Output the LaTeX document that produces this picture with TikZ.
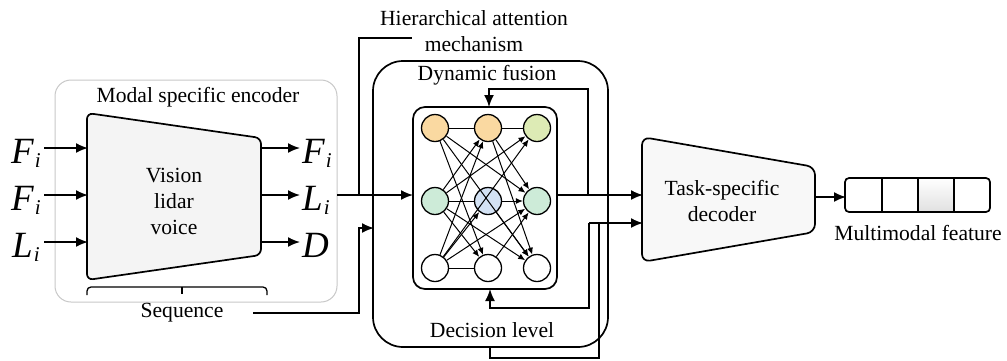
\documentclass[tikz,border=0pt]{standalone}
\usepackage{fontspec}
\setmainfont{Liberation Serif}
\usetikzlibrary{arrows.meta,calc}

% subscript index for the symbol labels
\newcommand\symidx[1]{\kern1pt\raisebox{-4pt}{\fontsize{21}{21}\selectfont #1}}

\definecolor{nodeorange}{HTML}{FAD9A1}
\definecolor{nodelime}{HTML}{DDEBB5}
\definecolor{nodemint}{HTML}{CDEBD8}
\definecolor{nodeblue}{HTML}{D3E2F4}
\definecolor{boxgray}{HTML}{C8C8C8}
\definecolor{trapfill}{HTML}{F4F4F4}

\begin{document}
\begin{tikzpicture}[x=1pt,y=-1pt,
  txt/.style={font=\rmfamily\fontsize{21.6}{26}\selectfont, align=center, inner sep=0pt},
  sym/.style={font=\rmfamily\fontsize{37}{37}\selectfont\itshape, inner sep=0pt, anchor=base west},
  conn/.style={line width=1.7pt},
  arr/.style={conn, -{Latex[length=12pt,width=10pt]}},
  neuron/.style={circle, draw, line width=1.3pt, minimum size=27pt, inner sep=0pt},
  link/.style={line width=1.0pt},
  linkarr/.style={link, -{Latex[length=7pt,width=6pt]}},
]
\useasboundingbox (0,0) rectangle (1007,360);
\fill[white] (0,0) rectangle (1007,360);

% ---------- modal specific encoder ----------
\draw[boxgray, line width=1pt, rounded corners=16pt] (55,80) rectangle (337,302);
\node[txt] (enctitle) at (198,97) {Modal specific encoder};
\draw[conn, fill=trapfill, rounded corners=6pt] (87,113) -- (261,138) -- (261,255) -- (87,280) -- cycle;
\node[txt] (enctext) at (174,201) {Vision\\lidar\\voice};

% inputs
\node[sym] (inF1) at (11,163) {F\symidx{i}};
\node[sym] (inF2) at (11,210) {F\symidx{i}};
\node[sym] (inL)  at (12,257) {L\symidx{i}};
\coordinate (inA1) at (44,148);  \coordinate (encA1) at (88,148);
\coordinate (inA2) at (44,195);  \coordinate (encA2) at (88,195);
\coordinate (inA3) at (44,242);  \coordinate (encA3) at (88,242);
\draw[arr] (inA1) -- (encA1);
\draw[arr] (inA2) -- (encA2);
\draw[arr] (inA3) -- (encA3);

% outputs
\coordinate (encB1) at (261,148); \coordinate (outA1) at (300,148);
\coordinate (encB2) at (261,195); \coordinate (outA2) at (300,195);
\coordinate (encB3) at (261,242); \coordinate (outA3) at (300,242);
\draw[arr] (encB1) -- (outA1);
\draw[arr] (encB2) -- (outA2);
\draw[arr] (encB3) -- (outA3);
\node[sym] (outF) at (302,163) {F\symidx{i}};
\node[sym] (outL) at (302,210) {L\symidx{i}};
\node[sym] (outD) at (302,257) {D};

% sequence brace
\draw[line width=1.3pt, rounded corners=4pt] (87,295) -- (87,287) -- (267,287) -- (267,295);
\draw[line width=1.3pt] (182,287) -- (182,294);
\node[txt] (seq) at (182,313) {Sequence};

% ---------- fusion block ----------
\draw[conn, rounded corners=30pt] (373,61) rectangle (608,347);
\node[txt] (dyn) at (487,75) {Dynamic fusion};
\node[txt] (dec) at (492,330) {Decision level};
\draw[conn, rounded corners=12pt] (413,107) rectangle (557,289);

\node[txt] (hier) at (474,31) {Hierarchical attention\\mechanism};

% neurons
\node[neuron, fill=nodeorange] (n11) at (435,128) {};
\node[neuron, fill=nodeorange] (n12) at (488,128) {};
\node[neuron, fill=nodelime]   (n13) at (537,128) {};
\node[neuron, fill=nodemint]   (n21) at (435,201) {};
\node[neuron, fill=nodeblue]   (n22) at (488,201) {};
\node[neuron, fill=nodemint]   (n23) at (537,201) {};
\node[neuron, fill=white]      (n31) at (435,268) {};
\node[neuron, fill=white]      (n32) at (488,268) {};
\node[neuron, fill=white]      (n33) at (537,268) {};

% neuron links
\draw[link] (n11) -- (n12);
\draw[link] (n12) -- (n13);
\draw[link] (n21) -- (n22);
\draw[linkarr] (n22) -- (n23);
\draw[link] (n31) -- (n32);
\draw[linkarr] (n11) -- (n23);
\draw[linkarr] (n11) -- (n32);
\draw[linkarr] (n11) -- (n33);
\draw[linkarr] (n12) -- (n23);
\draw[linkarr] (n12) -- (n33);
\draw[linkarr] (n21) -- (n12);
\draw[linkarr] (n21) -- (n13);
\draw[linkarr] (n21) -- (n32);
\draw[linkarr] (n21) -- (n33);
\draw[linkarr] (n31) -- (n22);
\draw[linkarr] (n31) -- (n23);
\draw[linkarr] (n31) -- (n12);
\draw[linkarr] (n31) -- (n13);
\draw[linkarr] (n22) -- (n33);
\draw[linkarr] (n32) -- (n23);

% ---------- connections into the fusion block ----------
\coordinate (liOut) at (337,195);
\coordinate (netIn) at (413,195);
\draw[arr] (liOut) -- (netIn);
\coordinate (hierTap) at (359,195);
\coordinate (hierEnd) at (412,38);
\draw[conn] (hierTap) |- (hierEnd);
\coordinate (seqStart) at (253,313);
\coordinate (seqIn) at (374,228);
\draw[arr] (seqStart) -| ($(seqIn)+(-15,0)$) -- (seqIn);

% ---------- task-specific decoder ----------
\draw[conn, fill=trapfill!60, rounded corners=8pt] (642,137) -- (815,167) -- (815,232) -- (642,262) -- cycle;
\node[txt] (dectext) at (722,201) {Task-specific\\decoder};

% network outputs and feedback loops
\coordinate (netOut) at (557,195);
\coordinate (decIn1) at (643,195);
\coordinate (decIn2) at (643,223);
\coordinate (tapTop) at (588,195);
\coordinate (netTop) at (489,107);
\coordinate (tapBot) at (589,223);
\coordinate (netBot) at (490,289);
\draw[arr] (netOut) -- (decIn1);
\draw[arr] (tapTop) |- (489,89) -- (netTop);
\draw[arr] (tapBot) -- (decIn2);
\draw[arr] (tapBot) |- (490,308) -- (netBot);
\draw[line width=1.3pt] (599,223) -- (599,358) -- (490,358) -- (490,347);

% ---------- multimodal feature ----------
\coordinate (decOut) at (815,197);
\coordinate (featIn) at (846,197);
\draw[arr] (decOut) -- (featIn);
\shade[top color=white, bottom color=black!12] (918,178) rectangle (954,212);
\draw[conn, rounded corners=4pt] (845,178) rectangle (990,212);
\draw[conn] (882,178) -- (882,212);
\draw[conn] (918,178) -- (918,212);
\draw[conn] (954,178) -- (954,212);
\node[txt] (feat) at (918,233) {Multimodal feature};

\end{tikzpicture}
\end{document}
